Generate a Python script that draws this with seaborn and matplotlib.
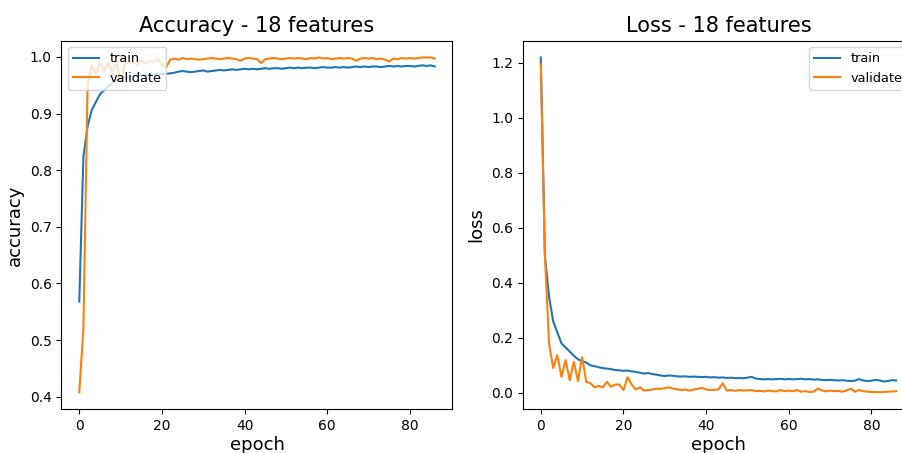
import numpy as np
import pandas as pd
import matplotlib
matplotlib.use("Agg")
import matplotlib.pyplot as plt
import seaborn as sns

epochs = list(range(87))

train_acc = [0.568, 0.824, 0.877, 0.906, 0.920, 0.934, 0.941, 0.948, 0.954, 0.958,
             0.962, 0.964, 0.965, 0.966, 0.967, 0.967, 0.968, 0.968, 0.969, 0.969,
             0.970, 0.970, 0.971, 0.972, 0.974, 0.975, 0.974, 0.973, 0.974, 0.975,
             0.976, 0.974, 0.975, 0.976, 0.977, 0.976, 0.977, 0.978, 0.977, 0.978,
             0.979, 0.978, 0.979, 0.978, 0.979, 0.980, 0.979, 0.980, 0.980, 0.979,
             0.980, 0.981, 0.980, 0.981, 0.980, 0.981, 0.981, 0.980, 0.981, 0.982,
             0.981, 0.981, 0.982, 0.981, 0.982, 0.981, 0.982, 0.983, 0.982, 0.983,
             0.982, 0.983, 0.983, 0.982, 0.983, 0.984, 0.983, 0.984, 0.983, 0.984,
             0.984, 0.983, 0.984, 0.985, 0.984, 0.985, 0.983]

val_acc = [0.408, 0.520, 0.948, 0.985, 0.970, 0.990, 0.975, 0.990, 0.972, 0.992,
           0.955, 0.988, 0.990, 0.993, 0.985, 0.995, 0.988, 0.993, 0.990, 0.997,
           0.986, 0.981, 0.995, 0.997, 0.995, 0.998, 0.996, 0.997, 0.996, 0.995,
           0.996, 0.997, 0.998, 0.997, 0.996, 0.997, 0.998, 0.997, 0.996, 0.993,
           0.997, 0.998, 0.997, 0.996, 0.989, 0.996, 0.997, 0.998, 0.997, 0.996,
           0.997, 0.998, 0.997, 0.998, 0.997, 0.996, 0.998, 0.997, 0.999, 0.997,
           0.998, 0.996, 0.997, 0.998, 0.997, 0.998, 0.997, 0.993, 0.997, 0.998,
           0.997, 0.998, 0.996, 0.997, 0.995, 0.992, 0.997, 0.996, 0.998, 0.997,
           0.998, 0.997, 0.998, 0.999, 0.999, 0.999, 0.997]

train_loss = [1.22, 0.50, 0.35, 0.26, 0.22, 0.18, 0.165, 0.15, 0.135, 0.122,
              0.115, 0.110, 0.100, 0.097, 0.093, 0.090, 0.088, 0.086, 0.083, 0.082,
              0.080, 0.081, 0.078, 0.076, 0.073, 0.070, 0.072, 0.068, 0.066, 0.063,
              0.061, 0.063, 0.062, 0.060, 0.059, 0.060, 0.058, 0.059, 0.058, 0.057,
              0.058, 0.056, 0.057, 0.055, 0.056, 0.054, 0.055, 0.053, 0.054, 0.053,
              0.055, 0.058, 0.052, 0.050, 0.049, 0.050, 0.049, 0.050, 0.051, 0.049,
              0.050, 0.049, 0.050, 0.051, 0.049, 0.050, 0.048, 0.049, 0.047, 0.046,
              0.047, 0.046, 0.045, 0.046, 0.044, 0.043, 0.044, 0.050, 0.045, 0.043,
              0.044, 0.047, 0.045, 0.041, 0.043, 0.046, 0.045]

val_loss = [1.195, 0.50, 0.18, 0.09, 0.137, 0.058, 0.119, 0.046, 0.113, 0.043,
            0.130, 0.040, 0.035, 0.020, 0.025, 0.020, 0.040, 0.022, 0.030, 0.030,
            0.010, 0.057, 0.030, 0.012, 0.020, 0.008, 0.010, 0.012, 0.015, 0.014,
            0.017, 0.020, 0.015, 0.013, 0.010, 0.012, 0.008, 0.012, 0.015, 0.018,
            0.012, 0.010, 0.011, 0.012, 0.035, 0.008, 0.010, 0.007, 0.010, 0.008,
            0.009, 0.010, 0.006, 0.007, 0.005, 0.008, 0.006, 0.005, 0.010, 0.006,
            0.008, 0.006, 0.010, 0.004, 0.006, 0.003, 0.004, 0.015, 0.009, 0.005,
            0.008, 0.006, 0.007, 0.004, 0.009, 0.015, 0.004, 0.010, 0.006, 0.004,
            0.003, 0.003, 0.002, 0.003, 0.004, 0.005, 0.006]

series_labels = ["train", "validate"]
titles = ["Accuracy - 18 features", "Loss - 18 features"]
ylabels = ["accuracy", "loss"]
xlabel = "epoch"

colors = ["#1f77b4", "#ff7f0e"]

W, H = 903, 453
fig = plt.figure(figsize=(W / 100, H / 100), dpi=100)
bottom = (H - 409) / H
height = (409 - 40.7) / H
width = 391 / W
ax1 = fig.add_axes([61.5 / W, bottom, width, height])
ax2 = fig.add_axes([523 / W, bottom, width, height])

for ax, (tr, va), title, ylab, loc in [
    (ax1, (train_acc, val_acc), titles[0], ylabels[0], "upper left"),
    (ax2, (train_loss, val_loss), titles[1], ylabels[1], "upper right"),
]:
    sns.lineplot(x=epochs, y=tr, ax=ax, color=colors[0], label=series_labels[0], linewidth=1.5)
    sns.lineplot(x=epochs, y=va, ax=ax, color=colors[1], label=series_labels[1], linewidth=1.5)
    ax.set_title(title, fontsize=15)
    ax.set_xlabel(xlabel, fontsize=13, labelpad=2)
    ax.set_ylabel(ylab, fontsize=13)
    ax.tick_params(labelsize=10)
    ax.set_xticks([0, 20, 40, 60, 80])
    ax.legend(loc=loc, fontsize=9.3)

ax1.set_yticks([0.4, 0.5, 0.6, 0.7, 0.8, 0.9, 1.0])
ax2.set_yticks([0.0, 0.2, 0.4, 0.6, 0.8, 1.0, 1.2])

fig.savefig("out.png", dpi=100)
